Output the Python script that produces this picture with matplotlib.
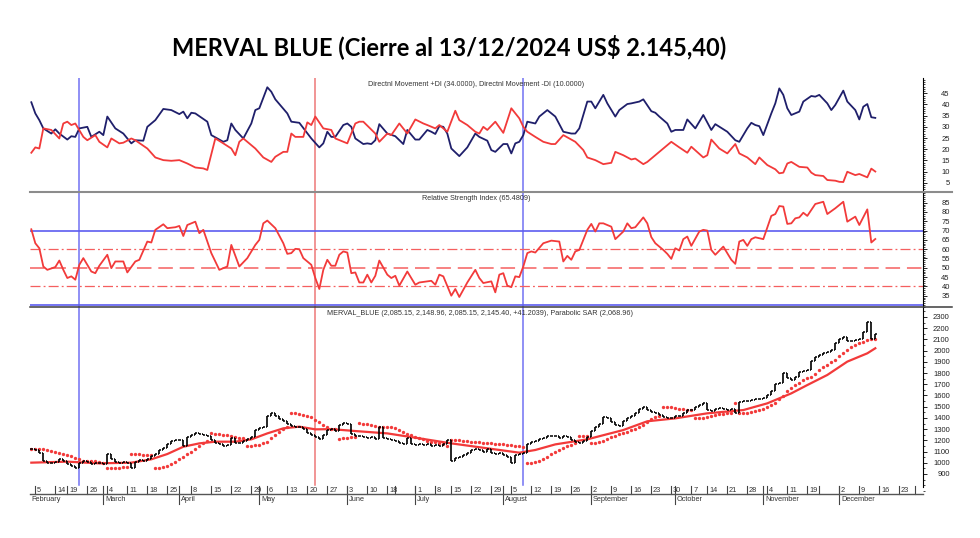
import numpy as np
import pandas as pd
import matplotlib
matplotlib.use('Agg')
import matplotlib.pyplot as plt
import matplotlib.transforms as mtransforms
from matplotlib.lines import Line2D
from matplotlib.ticker import MultipleLocator

plt.rcParams['font.family'] = ['Liberation Sans', 'DejaVu Sans']

# trading sessions (market holidays removed, Nov 22 missing in the feed)
closed = ['2024-02-12', '2024-02-13', '2024-03-28', '2024-03-29', '2024-04-01',
          '2024-04-02', '2024-05-01', '2024-06-17', '2024-06-20', '2024-06-21',
          '2024-07-09', '2024-10-11', '2024-11-18', '2024-11-22', '2024-12-25']
sessions = pd.bdate_range('2024-02-01', '2024-12-31')
sessions = sessions[~sessions.isin(pd.to_datetime(closed))]
origin = sessions.get_loc(pd.Timestamp('2024-02-05'))


def session(d):
    return sessions.get_loc(pd.Timestamp(d)) - origin


# daily closes from 2024-02-02 to 2024-12-13
close = [
    1120,
    1115, 1090, 1020, 1000, 995,
    1010, 1035, 1020,
    990, 975, 950, 1000, 1015,
    1005, 990, 995, 1000, 990,
    1080, 1030, 1010, 1000, 1005,
    995, 950, 1010, 1025, 1020,
    1030, 1060, 1080, 1110, 1130,
    1170, 1195, 1200,
    1205, 1150, 1230,
    1250, 1262, 1255, 1245, 1240,
    1200, 1175, 1165, 1150, 1160,
    1220, 1180, 1175, 1195, 1215,
    1230, 1295, 1310, 1320,
    1420, 1445, 1420, 1390, 1370,
    1345, 1330, 1320, 1315, 1300,
    1265, 1245, 1230, 1215, 1250,
    1290, 1300, 1280, 1340, 1352,
    1345, 1260, 1240, 1235, 1230,
    1225, 1230, 1215, 1320, 1225,
    1215, 1205,
    1190, 1175, 1165, 1218, 1170,
    1160, 1170, 1155, 1165, 1150,
    1160, 1150, 1165, 1200,
    1020, 1045, 1055, 1070, 1085,
    1110, 1125, 1110, 1100, 1120,
    1090, 1080, 1085, 1065, 1055,
    995, 1065, 1075, 1085, 1170,
    1185, 1195, 1210, 1225, 1235,
    1240, 1235, 1225, 1235, 1230,
    1200, 1185, 1175, 1190, 1230,
    1280, 1320, 1350, 1410, 1395,
    1360, 1340, 1330, 1370, 1400,
    1420, 1440, 1480, 1500, 1475,
    1456, 1440, 1426, 1411, 1400,
    1396, 1420, 1415, 1445, 1470,
    1470, 1500, 1515, 1530,
    1470, 1465, 1480, 1485, 1480,
    1475, 1480, 1445, 1545, 1550,
    1555, 1560, 1565, 1570, 1575,
    1600, 1640, 1700, 1710, 1798,
    1760, 1740, 1768, 1812, 1820,
    1827, 1905, 1940,
    1961, 1976, 1990, 2006, 2065,
    2100, 2125, 2085, 2090, 2095,
    2100, 2169, 2258, 2104, 2145.40,
]

# moving average, session number -> value
ma_day = [-1, 8, 16, 24, 29, 33, 37, 41, 45, 50, 54, 58, 62, 66, 70, 74, 80, 88,
          96, 104, 113, 121, 125, 130, 138, 147, 153, 160, 168, 177, 183, 189,
          193, 198, 203, 208, 210]
ma_val = [1001, 1010, 995, 1001, 1031, 1078, 1143, 1173, 1188, 1188, 1209, 1262,
          1307, 1322, 1298, 1300, 1283, 1262, 1218, 1173, 1129, 1090, 1114, 1164,
          1209, 1292, 1370, 1396, 1441, 1470, 1530, 1619, 1693, 1783, 1902, 1976,
          2021]

# directional movement +DI
dip_day = [-1, 0, 1, 2, 4, 5, 6, 8, 9, 10, 11, 13, 14, 16, 17, 18, 20, 22, 24, 25,
           27, 28, 30, 32, 34, 36, 37, 38, 39, 40, 43, 44, 47, 48, 49, 50, 52, 54,
           55, 56, 58, 59, 60, 63, 64, 66, 69, 71, 72, 73, 74, 75, 77, 78, 79, 80,
           82, 83, 84, 85, 86, 88, 90, 92, 93, 95, 96, 98, 99, 100, 101, 102, 103,
           104, 106, 108, 110, 111, 113, 114, 115, 117, 118, 119, 120, 121, 122,
           123, 125, 126, 128, 130, 132, 134, 135, 136, 138, 139, 140, 142, 143,
           145, 146, 148, 149, 151, 152, 154, 155, 156, 158, 159, 160, 162, 163,
           165, 167, 169, 170, 172, 173, 175, 176, 178, 179, 180, 181, 182, 184,
           185, 186, 187, 188, 189, 191, 192, 194, 195, 196, 198, 199, 200, 202,
           203, 205, 206, 207, 208, 209, 210]
dip_val = [41, 36, 33, 29.3, 27, 28.9, 27, 24.3, 25.8, 25.5, 29.3, 30, 25.5, 27.8,
           26.3, 34.6, 29.3, 27, 22.6, 24, 23.8, 30, 33, 38, 37.5, 35.7, 36.8, 33.8,
           36.3, 36, 32.3, 26.3, 23.3, 24, 31.5, 28.6, 24.8, 31.5, 37.5, 38.3, 47.7,
           45.7, 42.3, 36, 32.3, 31.8, 24.8, 20.8, 22.6, 27.8, 25.5, 25.5, 30.8,
           31.5, 30, 24.8, 22.3, 22.6, 22.3, 24, 31.2, 27, 25.8, 22.3, 28.6, 24.3,
           24.3, 28.6, 27.8, 26.8, 30.3, 30, 27, 20.3, 16.9, 20.8, 27, 25.5, 23.8,
           19.6, 18.8, 22.3, 22.3, 18.1, 22.6, 23.3, 26.3, 32.3, 31.5, 34.6, 37.5,
           34.6, 27.8, 27, 27, 29.3, 41.3, 41.3, 38.3, 44.3, 40.5, 34.6, 37.5, 40.2,
           40.5, 41.3, 42.3, 37, 36.3, 34.6, 31.5, 27.8, 28.6, 28.6, 33.3, 29.3,
           35.3, 28.6, 31.2, 28.9, 27.8, 24, 23.3, 29.3, 31.8, 30.8, 30.3, 26.3, 36,
           40.5, 47.2, 44.3, 38.3, 35.3, 36.8, 41.3, 43.8, 43.5, 44.3, 40.5, 37.5,
           39.8, 46.2, 41.3, 37.5, 33.3, 39, 40.2, 34.3, 34.0]

# directional movement -DI
dim_day = [-1, 0, 1, 2, 4, 6, 7, 8, 9, 10, 12, 13, 15, 16, 18, 19, 21, 22, 24, 25,
           28, 30, 32, 34, 36, 38, 40, 42, 43, 45, 47, 49, 50, 51, 52, 55, 57, 59,
           60, 62, 63, 64, 65, 67, 68, 69, 70, 72, 74, 75, 78, 80, 81, 82, 85, 86,
           88, 89, 91, 93, 95, 97, 98, 100, 101, 103, 105, 106, 108, 110, 111, 112,
           113, 115, 117, 119, 121, 122, 123, 125, 127, 129, 130, 132, 135, 137,
           138, 140, 142, 144, 145, 147, 149, 150, 152, 153, 155, 157, 159, 161,
           163, 164, 167, 168, 169, 171, 173, 175, 176, 178, 180, 181, 183, 185,
           186, 187, 188, 189, 191, 193, 194, 195, 197, 198, 200, 201, 202, 203,
           205, 206, 208, 209, 210]
dim_val = [18.4, 20.8, 20.3, 29.3, 28.6, 24.8, 31.5, 32.3, 30.8, 31.5, 25.5, 24,
           26.3, 23.3, 20.8, 24.8, 22.6, 22.9, 24.8, 24, 20.3, 16.3, 15.1, 14.8,
           15.1, 13.6, 11.8, 11.4, 10.7, 24.8, 22.6, 20.3, 17.3, 23.3, 24.8, 20.3,
           16.3, 14.3, 16.6, 18.8, 18.8, 27, 25.5, 25.5, 32, 30.8, 34.6, 29.3, 28.6,
           24.8, 22.6, 31.5, 32.3, 32.3, 27, 23.3, 27, 26.3, 31.5, 27, 33.3, 31.5,
           30.8, 29.3, 30.8, 27.8, 37.2, 33, 30.8, 27.8, 27, 30, 28.6, 32.3, 27.3,
           38.3, 33.8, 30, 27.8, 25.5, 23.3, 22.3, 22.3, 26.3, 23.3, 19.6, 16.3,
           15.1, 13.3, 13.9, 18.8, 17.3, 15.4, 15.8, 13.3, 14.3, 17.3, 20.3, 23.3,
           20.8, 18.4, 21.1, 16.3, 17.3, 24.3, 20.3, 18.1, 22.3, 18.1, 16.3, 13.3,
           16.3, 12.9, 11, 9.2, 9.5, 13.6, 14.3, 12.1, 11.8, 9.5, 8.4, 8, 6.2, 5.9,
           5.4, 5.3, 9.9, 8.4, 8.9, 7.4, 11.3, 10.0]

# relative strength index
rsi_day = [-1, 0, 1, 2, 3, 5, 6, 7, 8, 9, 10, 11, 12, 13, 14, 15, 16, 18, 19, 20,
           21, 22, 23, 25, 26, 28, 29, 30, 32, 33, 35, 36, 37, 38, 40, 41, 42, 44,
           46, 48, 49, 51, 53, 55, 56, 57, 58, 60, 62, 63, 64, 65, 66, 67, 69, 70,
           71, 72, 73, 74, 75, 76, 77, 78, 79, 80, 81, 82, 83, 84, 85, 86, 88, 89,
           90, 91, 93, 95, 96, 99, 100, 101, 102, 104, 105, 106, 108, 110, 111, 112,
           114, 115, 116, 117, 118, 119, 120, 121, 122, 123, 124, 125, 127, 129,
           131, 132, 133, 134, 135, 136, 138, 139, 140, 141, 142, 144, 145, 147,
           148, 149, 150, 152, 153, 154, 155, 157, 158, 159, 160, 161, 162, 163,
           164, 166, 167, 168, 169, 170, 172, 174, 175, 176, 177, 178, 179, 180,
           182, 184, 185, 186, 187, 188, 189, 190, 191, 192, 193, 195, 197, 198,
           200, 202, 203, 205, 206, 208, 209, 210]
rsi_val = [70.7, 63.2, 60.5, 50.7, 48.9, 50.4, 53.9, 48.9, 44.5, 45.4, 43.6, 51.6,
           55.2, 51.6, 48, 47.1, 51.1, 57, 49.8, 53.4, 53.4, 53.4, 47.5, 53.4, 54.3,
           64.1, 63.6, 70.4, 73.4, 71.3, 71.8, 72.5, 67.1, 73, 74.8, 68.6, 70.4,
           57.9, 48.9, 50.7, 62.3, 50.7, 55.2, 62.3, 65, 73.9, 75.4, 71.3, 63.2,
           57.5, 57.9, 60.2, 60, 55.2, 51.6, 44.5, 38.6, 48.9, 54.3, 51.1, 51.1, 57,
           58.8, 58.2, 47.1, 47.5, 42.1, 42.1, 46.3, 42.1, 45.7, 53.9, 46.3, 44.5,
           45.7, 40.4, 48, 40.9, 42.1, 43, 40.9, 46.3, 45.4, 35, 38.6, 34.3, 42.1,
           48.9, 44.5, 41.8, 42.7, 36.8, 46.3, 47.1, 40.4, 39.6, 45.4, 45, 50.7,
           57.9, 58.8, 58.2, 63.2, 64.6, 64.1, 53.4, 56.4, 54.3, 58.8, 59.6, 70.4,
           73.6, 69.5, 73.9, 73.9, 72.1, 65.4, 69.5, 73.9, 71.3, 71.8, 77.1, 73.9,
           66.5, 63.2, 59.6, 57.5, 54.8, 60.5, 59.3, 65.4, 66.8, 61.8, 69.5, 70.4,
           70, 59.6, 57, 61.4, 54.3, 52.1, 64.1, 65, 61.8, 65.4, 66.4, 65.4, 77.9,
           78.9, 83.2, 82.9, 73.6, 73.9, 76.6, 77.1, 79.6, 77.9, 84.3, 85.5, 78.9,
           82, 85.5, 74.8, 77.5, 73, 81.4, 63.6, 65.48]

signal_dates = ['2024-02-22', '2024-05-22', '2024-08-08']
signal_colors = ['#7272f2', '#ee7878', '#7272f2']

week_ticks = ['2024-02-05', '2024-02-14', '2024-02-19', '2024-02-26', '2024-03-04',
              '2024-03-11', '2024-03-18', '2024-03-25', '2024-04-08', '2024-04-15',
              '2024-04-22', '2024-04-29', '2024-05-06', '2024-05-13', '2024-05-20',
              '2024-05-27', '2024-06-03', '2024-06-10', '2024-06-18', '2024-06-24',
              '2024-07-01', '2024-07-08', '2024-07-15', '2024-07-22', '2024-07-29',
              '2024-08-05', '2024-08-12', '2024-08-19', '2024-08-26', '2024-09-02',
              '2024-09-09', '2024-09-16', '2024-09-23', '2024-09-30', '2024-10-07',
              '2024-10-14', '2024-10-21', '2024-10-28', '2024-11-04', '2024-11-11',
              '2024-11-19', '2024-11-25', '2024-12-02', '2024-12-09', '2024-12-16',
              '2024-12-23', '2024-12-30']
unlabeled = ['2024-06-24', '2024-11-25', '2024-12-30']
month_ticks = ['2024-02-01', '2024-03-01', '2024-04-03', '2024-05-02', '2024-06-03',
               '2024-07-01', '2024-08-01', '2024-09-02', '2024-10-01', '2024-11-01',
               '2024-12-02']
month_names = ['February', 'March', 'April', 'May', 'June', 'July', 'August',
               'September', 'October', 'November', 'December']


def parabolic_sar(high, low, step=0.02, max_af=0.2):
    sar = np.empty(len(high))
    rising = True
    af = step
    ep = high[0]
    sar[0] = low[0]
    for i in range(1, len(high)):
        s = sar[i - 1] + af * (ep - sar[i - 1])
        if rising:
            s = min(s, low[i - 1], low[max(i - 2, 0)])
            if low[i] < s:
                rising, s, ep, af = False, ep, low[i], step
            elif high[i] > ep:
                ep, af = high[i], min(af + step, max_af)
        else:
            s = max(s, high[i - 1], high[max(i - 2, 0)])
            if high[i] > s:
                rising, s, ep, af = True, ep, high[i], step
            elif low[i] < ep:
                ep, af = low[i], min(af + step, max_af)
        sar[i] = s
    return sar


close = np.array(close, dtype=float)
day = np.arange(len(close)) - 1
opn = np.r_[close[0], close[:-1]]
high = np.maximum(opn, close)
low = np.minimum(opn, close)
sar = parabolic_sar(high, low)

RED = '#f23a3a'
NAVY = '#1f1f6b'
BLUE = '#5c5cf0'

fig = plt.figure(figsize=(9.8, 5.38), dpi=100)
L, W = 30 / 980, 892.7 / 980
ax_di = fig.add_axes([L, 1 - 192 / 538, W, 114 / 538])
ax_rsi = fig.add_axes([L, 1 - 307 / 538, W, 115 / 538])
ax_px = fig.add_axes([L, 1 - 494 / 538, W, 187 / 538])

for ax in (ax_di, ax_rsi, ax_px):
    ax.set_xlim(-1.33, 221.85)
    for side in ('left', 'top', 'bottom'):
        ax.spines[side].set_visible(False)
    ax.spines['right'].set_linewidth(0.8)
    ax.yaxis.tick_right()
    ax.tick_params(axis='x', which='both', bottom=False, labelbottom=False)
    ax.tick_params(axis='y', which='major', length=3, width=0.6,
                   labelsize=5.5, pad=16.5, labelcolor='#222222')
    ax.tick_params(axis='y', which='minor', length=1.5, width=0.5)
    for d, c in zip(signal_dates, signal_colors):
        ymin = 0.048 if ax is ax_px else 0
        ax.axvline(session(d), ymin=ymin, color=c, lw=1.1, zorder=1)

# directional movement panel
ax_di.plot(dip_day, dip_val, color=NAVY, lw=1.3, zorder=3)
ax_di.plot(dim_day, dim_val, color=RED, lw=1.3, zorder=3)
ax_di.set_ylim(0.84, 51.85)
ax_di.set_yticks(range(5, 50, 5))
ax_di.yaxis.set_minor_locator(MultipleLocator(1))
ax_di.text(0.5, 0.94, 'Directnl Movement +DI (34.0000), Directnl Movement -DI (10.0000)',
           transform=ax_di.transAxes, ha='center', va='center', fontsize=5.2,
           color='#333333')

# RSI panel
ax_rsi.axhline(70, color=BLUE, lw=1.2, zorder=2)
ax_rsi.axhline(30, color=BLUE, lw=1.2, zorder=2)
ax_rsi.axhline(60, color='#f55f5f', lw=0.9, ls=(0, (8, 2.5, 1.5, 2.5)), zorder=2)
ax_rsi.axhline(40, color='#f55f5f', lw=0.9, ls=(0, (8, 2.5, 1.5, 2.5)), zorder=2)
ax_rsi.axhline(50, color='#f55f5f', lw=1.1, ls=(0, (9.5, 4.5)), zorder=2)
ax_rsi.plot(rsi_day, rsi_val, color=RED, lw=1.3, zorder=3)
ax_rsi.set_ylim(28.92, 90.75)
ax_rsi.set_yticks(range(35, 90, 5))
ax_rsi.yaxis.set_minor_locator(MultipleLocator(1))
ax_rsi.text(0.5, 0.94, 'Relative Strength Index (65.4809)', transform=ax_rsi.transAxes,
            ha='center', va='center', fontsize=5.2, color='#333333')

# price panel: OHLC bars, moving average and parabolic SAR
ax_px.vlines(day, low, high, color='black', lw=1.2, zorder=4)
ax_px.hlines(opn, day - 0.32, day, color='black', lw=1.1, zorder=4)
ax_px.hlines(close, day, day + 0.32, color='black', lw=1.1, zorder=4)
ax_px.plot(ma_day, ma_val, color=RED, lw=1.6, zorder=3)
ax_px.plot(day, sar, 'o', ms=2.4, color=RED, mec='none', zorder=3)
ax_px.set_ylim(721.6, 2389)
ax_px.set_yticks(range(900, 2400, 100))
ax_px.yaxis.set_minor_locator(MultipleLocator(50))
ax_px.spines['right'].set_bounds(783, 2389)
ax_px.spines['bottom'].set_visible(True)
ax_px.spines['bottom'].set_color('#555555')
ax_px.spines['bottom'].set_linewidth(1.0)
ax_px.text(0.3327, 0.9626,
           'MERVAL_BLUE (2,085.15, 2,148.96, 2,085.15, 2,145.40, +41.2039), '
           'Parabolic SAR (2,068.96)',
           transform=ax_px.transAxes, ha='left', va='center', fontsize=5.2,
           color='#333333')

for ax in (ax_di, ax_rsi, ax_px):
    plt.setp(ax.get_yticklabels(), ha='right')

# date axis: weekly marks above the line, months below
tr = mtransforms.blended_transform_factory(ax_px.transData, ax_px.transAxes)
for d in week_ticks:
    x = session(d)
    ax_px.plot([x, x], [0, 0.042], color='#444444', lw=0.8, transform=tr,
               clip_on=False)
    if d not in unlabeled:
        ax_px.text(x + 0.45, 0.021, str(pd.Timestamp(d).day), transform=tr,
                   ha='left', va='center', fontsize=5.3, color='#333333')
for d, name in zip(month_ticks, month_names):
    x = session(d)
    if x > -1.33:
        ax_px.plot([x, x], [0.042, -0.055], color='#444444', lw=0.8, transform=tr,
                   clip_on=False)
    ax_px.text(max(x, -1.33) + 0.4, -0.032, name, transform=tr, ha='left',
               va='center', fontsize=5.3, color='#333333')

# panel separators
fig.add_artist(Line2D([30 / 980, 952 / 980], [1 - 192 / 538] * 2,
                      color='#8c8c8c', lw=1.5))
fig.add_artist(Line2D([30 / 980, 952 / 980], [1 - 306.7 / 538] * 2,
                      color='#3c3c3c', lw=1.1))

fig.text(0.4587, 1 - 47 / 538, 'MERVAL BLUE (Cierre al 13/12/2024 US$ 2.145,40)',
         ha='center', va='center', fontsize=17, fontweight='bold',
         family=['Lato', 'DejaVu Sans'])

fig.savefig('out.png', dpi=100)
